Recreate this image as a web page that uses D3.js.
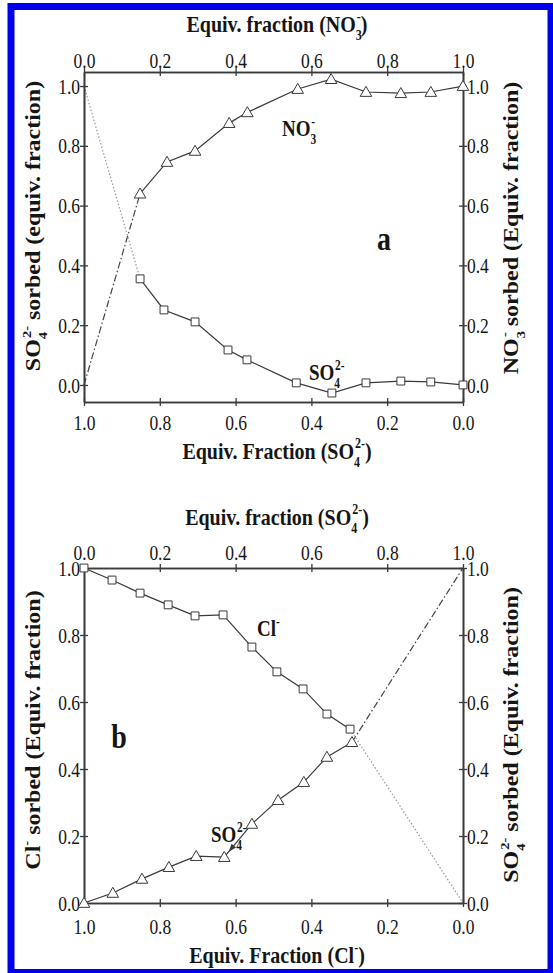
<!DOCTYPE html>
<html><head><meta charset="utf-8">
<script src="https://cdn.jsdelivr.net/npm/d3@7"></script>
<style>
body{margin:0;background:#fff}
svg{display:block}
</style>
</head><body>
<svg id="c" width="553" height="973"></svg>
<script>
// ---------- shared ticks ----------
const tickValues = [0, 0.2, 0.4, 0.6, 0.8, 1.0];
const tickLabels = ["0.0", "0.2", "0.4", "0.6", "0.8", "1.0"];

// ---------- panel a : SO4 / NO3 ----------
const aNitrateFrac   = [0.148, 0.219, 0.293, 0.383, 0.431, 0.564, 0.652, 0.744, 0.836, 0.915, 1.0];
const aNitrateSorbed = [0.640, 0.746, 0.783, 0.876, 0.912, 0.990, 1.023, 0.980, 0.976, 0.980, 1.0];
const aSulfateFrac   = [0.852, 0.789, 0.707, 0.620, 0.570, 0.440, 0.346, 0.256, 0.164, 0.085, 0.0];
const aSulfateSorbed = [0.355, 0.251, 0.211, 0.117, 0.084, 0.007, -0.027, 0.007, 0.013, 0.010, 0.0];
const aNitrateStart  = [0, 0];   // (frac, sorbed) dash-dot end
const aSulfateStart  = [1, 1];   // (frac, sorbed) dotted end

// ---------- panel b : Cl / SO4 ----------
const bChlorideFrac   = [1.0, 0.926, 0.852, 0.778, 0.707, 0.633, 0.557, 0.491, 0.422, 0.359, 0.298];
const bChlorideSorbed = [1.0, 0.964, 0.925, 0.890, 0.857, 0.860, 0.764, 0.690, 0.639, 0.564, 0.519];
const bSulfateFrac    = [0.0, 0.076, 0.153, 0.224, 0.296, 0.370, 0.443, 0.512, 0.580, 0.641, 0.707];
const bSulfateSorbed  = [0.0, 0.030, 0.072, 0.107, 0.140, 0.137, 0.236, 0.307, 0.361, 0.436, 0.480];
const bChlorideEnd    = [0, 0];
const bSulfateEnd     = [1, 1];

const FONT = '"Liberation Serif", "Times New Roman", Times, serif';
const K = 1.2;            // vertical stretch of the original figure
const INK = "#3a3a3a";
const TXT = "#151515";
const TICKFONT = 17.5;

const svg = d3.select("#c").style("font-family", FONT);
svg.append("rect").attr("x", 11).attr("y", 6.5).attr("width", 540).attr("height", 966)
   .attr("fill", "#fff").attr("stroke", "#0000ee").attr("stroke-width", 7);

function rich(sel, parts, size) {
  let cur = 0;
  parts.forEach(([t, kind, dxAdj]) => {
    const target = kind === "sub" ? 0.35 * size : kind === "sup" ? -0.45 * size : 0;
    const ts = sel.append("tspan").text(t).attr("dy", target - cur)
      .attr("font-size", kind === "n" ? size : size * 0.6);
    if (dxAdj) ts.attr("dx", dxAdj);
    cur = target;
  });
}

// orient: "bottom" | "top" | "left" | "right"; off: baseline offset (px) for bottom/top
function axisPair(g, orient, scale, tr, off) {
  const make = { bottom: d3.axisBottom, top: d3.axisTop, left: d3.axisLeft, right: d3.axisRight }[orient];
  const gOut = g.append("g").attr("transform", tr)
    .call(make(scale).tickValues(tickValues).tickSizeInner(4).tickSizeOuter(0).tickPadding(3)
      .tickFormat((d, i) => tickLabels[i]));
  const gIn = g.append("g").attr("transform", tr)
    .call(make(scale).tickValues(tickValues).tickSizeInner(-4).tickSizeOuter(0).tickFormat(""));
  [gOut, gIn].forEach(s => {
    s.attr("font-family", FONT);
    s.selectAll("path.domain").attr("stroke", INK).attr("stroke-width", 1.6);
    s.selectAll(".tick line").attr("stroke", INK).attr("stroke-width", 1.3);
  });
  const txt = gOut.selectAll(".tick text").attr("font-size", TICKFONT).attr("fill", TXT)
    .style("font-family", FONT).attr("dy", null).attr("transform", `scale(1,${K})`);
  if (orient === "bottom" || orient === "top") {
    txt.attr("y", off / K).attr("x", 0);
  } else {
    txt.attr("y", 0.34 * TICKFONT).attr("x", orient === "left" ? -4 : 4);
  }
  return gOut;
}

function panel(cfg) {
  const g = svg.append("g");
  const xB = d3.scaleLinear().domain([1, 0]).range([84, 463]);
  const xT = d3.scaleLinear().domain([0, 1]).range([84, 463]);
  const y = d3.scaleLinear().domain(cfg.yDomain).range([cfg.yBottom, cfg.yTop]);
  axisPair(g, "bottom", xB, `translate(0,${cfg.yBottom})`, cfg.botOff);
  axisPair(g, "top", xT, `translate(0,${cfg.yTop})`, cfg.topOff);
  axisPair(g, "left", y, `translate(84,0)`);
  axisPair(g, "right", y, `translate(463,0)`);
  return { g, xB, xT, y };
}

function series(P, xs, ys, xScale, kind) {
  const pts = xs.map((v, i) => [xScale(v), P.y(ys[i])]);
  P.g.append("path").attr("d", d3.line()(pts)).attr("fill", "none")
    .attr("stroke", INK).attr("stroke-width", 1.2);
  const sym = kind === "tri" ? d3.symbol(d3.symbolTriangle, 58) : d3.symbol(d3.symbolSquare, 62);
  P.g.selectAll(null).data(pts).join("path")
    .attr("transform", d => `translate(${d[0]},${d[1] + (kind === "tri" ? 1 : 0)})`)
    .attr("d", sym).attr("fill", "#fff").attr("stroke", INK).attr("stroke-width", 1);
  return pts;
}

function guide(P, from, to, dash, color) {
  P.g.insert("path", ":first-child").attr("d", d3.line()([from, to])).attr("fill", "none")
    .attr("stroke", color).attr("stroke-width", 1.2).attr("stroke-dasharray", dash);
}

function title(x, y, parts, size, rot, anchor) {
  const t = svg.append("text").attr("text-anchor", anchor || "middle").attr("font-weight", "bold")
    .attr("fill", TXT)
    .attr("transform", rot ? `translate(${x},${y}) rotate(-90) scale(${K},1)`
                           : `translate(${x},${y}) scale(1,${K})`);
  rich(t, parts, size);
  return t;
}

// ===== panel a =====
const A = panel({ yDomain: [-0.057, 1.047], yBottom: 402, yTop: 72, botOff: 28, topOff: -4 });
const aTri = aNitrateFrac.map((v, i) => [A.xT(v), A.y(aNitrateSorbed[i])]);
const aSq = aSulfateFrac.map((v, i) => [A.xB(v), A.y(aSulfateSorbed[i])]);
guide(A, [A.xB(aSulfateStart[0]), A.y(aSulfateStart[1])], aSq[0], "1.5,2", "#999");
guide(A, [A.xT(aNitrateStart[0]), A.y(aNitrateStart[1])], aTri[0], "7,2.5,1.5,2.5", "#444");
series(A, aNitrateFrac, aNitrateSorbed, A.xT, "tri");
series(A, aSulfateFrac, aSulfateSorbed, A.xB, "sq");

title(277, 32, [["Equiv. fraction (NO", "n"], ["3", "sub"], ["-", "sup", -5], [")", "n"]], 20, false);
title(277, 459, [["Equiv. Fraction (SO", "n"], ["4", "sub"], ["2-", "sup", -5], [")", "n"]], 20, false);
title(40, 226, [["SO", "n"], ["4", "sub"], ["2-", "sup", -5], [" sorbed (equiv. fraction)", "n"]], 20, true);
title(518, 228, [["NO", "n"], ["3", "sub"], ["-", "sup", -5], [" sorbed (Equiv. fraction)", "n"]], 20, true);

// in-plot labels
title(282, 136, [["NO", "n"], ["3", "sub"], ["-", "sup", -5]], 19, false, "start");
title(309, 380, [["SO", "n"], ["4", "sub"], ["2-", "sup", -5]], 19, false, "start");
title(384, 250, [["a", "n"]], 28, false);

// ===== panel b =====
const B = panel({ yDomain: [0, 1], yBottom: 903, yTop: 568, botOff: 31, topOff: -8 });
const bSq = bChlorideFrac.map((v, i) => [B.xB(v), B.y(bChlorideSorbed[i])]);
const bTri = bSulfateFrac.map((v, i) => [B.xT(v), B.y(bSulfateSorbed[i])]);
guide(B, bSq[bSq.length - 1], [B.xB(bChlorideEnd[0]), B.y(bChlorideEnd[1])], "1.5,2", "#999");
guide(B, bTri[bTri.length - 1], [B.xT(bSulfateEnd[0]), B.y(bSulfateEnd[1])], "7,2.5,1.5,2.5", "#444");
series(B, bChlorideFrac, bChlorideSorbed, B.xB, "sq");
series(B, bSulfateFrac, bSulfateSorbed, B.xT, "tri");

title(277, 525, [["Equiv. fraction (SO", "n"], ["4", "sub"], ["2-", "sup", -5], [")", "n"]], 20, false);
title(277, 963, [["Equiv. Fraction (Cl", "n"], ["-", "sup"], [")", "n"]], 20, false);
title(40, 730, [["Cl", "n"], ["-", "sup"], [" sorbed (Equiv. fraction)", "n"]], 20, true);
title(518, 735, [["SO", "n"], ["4", "sub"], ["2-", "sup", -5], [" sorbed (Equiv. fraction)", "n"]], 20, true);

title(257, 636, [["Cl", "n"], ["-", "sup"]], 19, false, "start");
title(211, 842, [["SO", "n"], ["4", "sub"], ["2-", "sup", -5]], 19, false, "start");
title(119, 748, [["b", "n"]], 28, false);

// arrow from the SO4 label toward the 6th triangle
{
  const p6 = bTri[5], p7 = bTri[6];
  const dx = p6[0] - p7[0], dy = p6[1] - p7[1], L = Math.hypot(dx, dy);
  const ux = dx / L, uy = dy / L;
  const tip = [p6[0] - ux * 7, p6[1] - uy * 7];
  const back = [tip[0] - ux * 8, tip[1] - uy * 8];
  const px = -uy, py = ux;
  svg.append("path").attr("d", d3.line()([
    tip, [back[0] + px * 3, back[1] + py * 3], [back[0] - px * 3, back[1] - py * 3], tip
  ])).attr("fill", INK).attr("stroke", "none");
}
</script>
</body></html>
